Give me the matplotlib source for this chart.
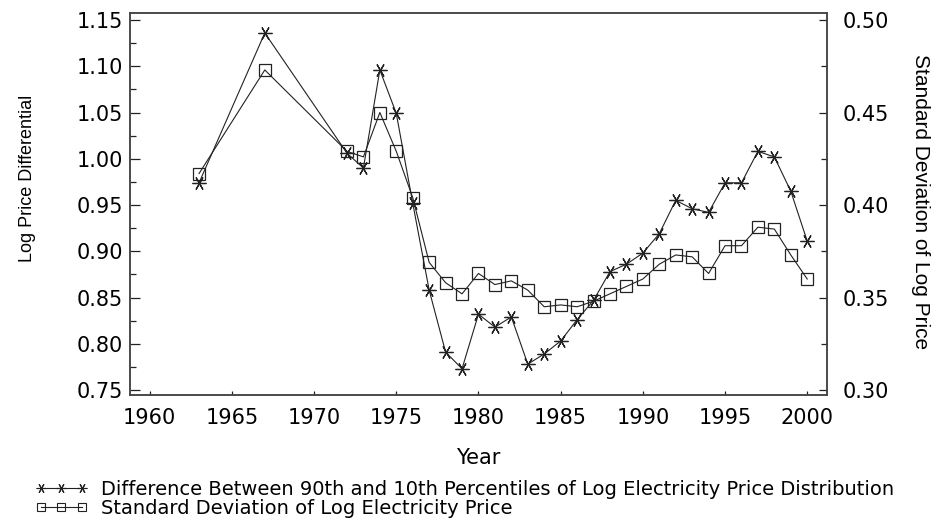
import numpy as np
import matplotlib
matplotlib.use('Agg')
import matplotlib.pyplot as plt
from matplotlib.lines import Line2D
from matplotlib.ticker import MultipleLocator, FormatStrFormatter

# data
years = [1963, 1967, 1972, 1973, 1974, 1975, 1976, 1977, 1978, 1979, 1980,
         1981, 1982, 1983, 1984, 1985, 1986, 1987, 1988, 1989, 1990,
         1991, 1992, 1993, 1994, 1995, 1996, 1997, 1998, 1999, 2000]
diff_90_10 = [0.974, 1.136, 1.006, 0.990, 1.096, 1.049, 0.952, 0.858, 0.791, 0.773, 0.832,
              0.818, 0.829, 0.778, 0.789, 0.803, 0.826, 0.847, 0.878, 0.886, 0.898,
              0.919, 0.955, 0.946, 0.942, 0.974, 0.974, 1.008, 1.002, 0.965, 0.911]
std_log = [0.417, 0.473, 0.429, 0.426, 0.450, 0.429, 0.404, 0.369, 0.358, 0.352, 0.363,
           0.357, 0.359, 0.354, 0.345, 0.346, 0.345, 0.348, 0.352, 0.356, 0.360,
           0.368, 0.373, 0.372, 0.363, 0.378, 0.378, 0.388, 0.387, 0.373, 0.360]
xticks = [1960, 1965, 1970, 1975, 1980, 1985, 1990, 1995, 2000]
lab_diff = 'Difference Between 90th and 10th Percentiles of Log Electricity Price Distribution'
lab_std = 'Standard Deviation of Log Electricity Price'

ink = '#222222'
star = (6, 2, 90)

fig = plt.figure(figsize=(9.38, 5.23), dpi=100)
ax = fig.add_axes([0.1386, 0.2447, 0.743, 0.7298])
ax2 = ax.twinx()

ax.plot(years, diff_90_10, color=ink, lw=0.8, marker=star, ms=10, mew=0.9, mec=ink)
ax2.plot(years, std_log, color=ink, lw=0.8, marker='s', ms=9, mfc='none', mew=0.9, mec=ink)

ax.set_xlim(1958.8, 2001.2)
ax.set_ylim(0.7446, 1.1572)
ax2.set_ylim(0.2973, 0.5036)

ax.set_xticks(xticks)
ax.yaxis.set_major_locator(MultipleLocator(0.05))
ax.yaxis.set_minor_locator(MultipleLocator(0.025))
ax.yaxis.set_major_formatter(FormatStrFormatter('%.2f'))
ax2.yaxis.set_major_locator(MultipleLocator(0.05))
ax2.yaxis.set_minor_locator(MultipleLocator(0.025))
ax2.yaxis.set_major_formatter(FormatStrFormatter('%.2f'))

ax.tick_params(axis='x', direction='in', length=3, width=0.9, color=ink, pad=9, labelsize=15)
ax.tick_params(axis='y', which='major', direction='in', length=7, width=0.9, color=ink, pad=5, labelsize=15)
ax.tick_params(axis='y', which='minor', direction='in', length=4.5, width=0.9, color=ink)
ax2.tick_params(axis='y', which='major', direction='in', length=6, width=0.9, color=ink, pad=11, labelsize=15)
ax2.tick_params(axis='y', which='minor', direction='in', length=4.5, width=0.9, color=ink)

for a in (ax, ax2):
    for s in a.spines.values():
        s.set_color('#444444')
        s.set_linewidth(1.1)

fig.text(0.5101, 1 - 458 / 523, 'Year', ha='center', va='center', fontsize=15)
fig.text(28 / 938, 1 - 178 / 523, 'Log Price Differential', rotation=90,
         ha='center', va='center', fontsize=13, family=['Liberation Sans', 'DejaVu Sans'])
fig.text(920 / 938, 1 - 202 / 523, 'Standard Deviation of Log Price', rotation=270,
         ha='center', va='center', fontsize=15, family=['Liberation Sans', 'DejaVu Sans'])

handles = [Line2D([], [], color=ink, lw=0.8, marker=star, ms=7, mew=0.8),
           Line2D([], [], color=ink, lw=0.8, marker='s', ms=6, mfc='none', mew=0.8)]
fig.legend(handles, [lab_diff, lab_std], loc='upper left', bbox_to_anchor=(35 / 938, 1 - 480 / 523),
           frameon=False, fontsize=14, numpoints=3, handlelength=2.7, handletextpad=0.7,
           labelspacing=0.0, borderpad=0, borderaxespad=0)

fig.savefig('out.png', dpi=100)
